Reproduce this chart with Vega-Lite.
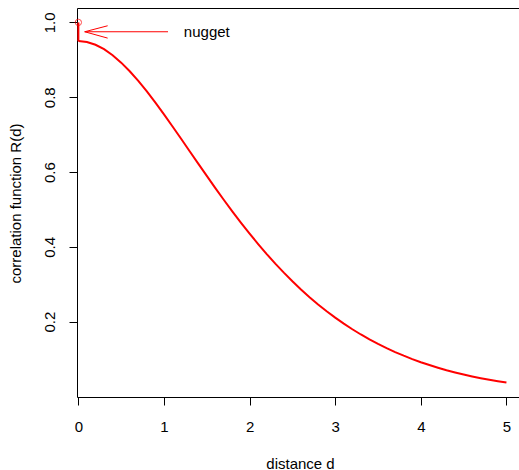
{
  "$schema": "https://vega.github.io/schema/vega-lite/v6.json",
  "width": 444,
  "height": 389,
  "autosize": {"type": "none"},
  "padding": {"left": 77, "top": 8, "right": -2, "bottom": 73},
  "background": "white",
  "config": {
    "font": "Liberation Sans",
    "view": {"stroke": "black", "strokeWidth": 1},
    "axis": {
      "domain": false,
      "grid": false,
      "tickColor": "black",
      "tickSize": 8,
      "tickWidth": 1,
      "labelFont": "Liberation Sans",
      "labelFontSize": 15,
      "labelColor": "black",
      "titleFont": "Liberation Sans",
      "titleFontSize": 15,
      "titleFontWeight": "normal",
      "titleColor": "black"
    }
  },
  "datasets": {
    "curve": [
      {"x": 0.0, "y": 0.9500}, {"x": 0.1, "y": 0.9475}, {"x": 0.2, "y": 0.9402}, {"x": 0.3, "y": 0.9284},
      {"x": 0.4, "y": 0.9123}, {"x": 0.5, "y": 0.8925}, {"x": 0.6, "y": 0.8694}, {"x": 0.7, "y": 0.8436},
      {"x": 0.8, "y": 0.8155}, {"x": 0.9, "y": 0.7855}, {"x": 1.0, "y": 0.7542}, {"x": 1.1, "y": 0.7218},
      {"x": 1.2, "y": 0.6889}, {"x": 1.3, "y": 0.6557}, {"x": 1.4, "y": 0.6225}, {"x": 1.5, "y": 0.5896},
      {"x": 1.6, "y": 0.5571}, {"x": 1.7, "y": 0.5253}, {"x": 1.8, "y": 0.4944}, {"x": 1.9, "y": 0.4644},
      {"x": 2.0, "y": 0.4354}, {"x": 2.1, "y": 0.4075}, {"x": 2.2, "y": 0.3808}, {"x": 2.3, "y": 0.3553},
      {"x": 2.4, "y": 0.3311}, {"x": 2.5, "y": 0.3081}, {"x": 2.6, "y": 0.2862}, {"x": 2.7, "y": 0.2656},
      {"x": 2.8, "y": 0.2462}, {"x": 2.9, "y": 0.2280}, {"x": 3.0, "y": 0.2109}, {"x": 3.1, "y": 0.1948},
      {"x": 3.2, "y": 0.1798}, {"x": 3.3, "y": 0.1658}, {"x": 3.4, "y": 0.1527}, {"x": 3.5, "y": 0.1406},
      {"x": 3.6, "y": 0.1293}, {"x": 3.7, "y": 0.1188}, {"x": 3.8, "y": 0.1091}, {"x": 3.9, "y": 0.1001},
      {"x": 4.0, "y": 0.0917}, {"x": 4.1, "y": 0.0841}, {"x": 4.2, "y": 0.0770}, {"x": 4.3, "y": 0.0704},
      {"x": 4.4, "y": 0.0644}, {"x": 4.5, "y": 0.0588}, {"x": 4.6, "y": 0.0537}, {"x": 4.7, "y": 0.0490},
      {"x": 4.8, "y": 0.0447}, {"x": 4.9, "y": 0.0408}, {"x": 5.0, "y": 0.0372}
    ],
    "nuggetbar": [{"x": 0, "y": 0.95, "x2": 0, "y2": 1.0}],
    "nuggetpoint": [{"x": 0, "y": 1.0}],
    "arrow": [
      {"x": 1.047, "y": 0.975, "x2": 0.074, "y2": 0.975},
      {"x": 0.074, "y": 0.975, "x2": 0.342, "y2": 0.991},
      {"x": 0.074, "y": 0.975, "x2": 0.342, "y2": 0.958}
    ],
    "label": [{"x": 1.5, "y": 0.975, "text": "nugget"}]
  },
  "encoding": {
    "x": {
      "field": "x", "type": "quantitative",
      "scale": {"domain": [-0.016, 5.17], "nice": false, "zero": false},
      "axis": {
        "values": [0, 1, 2, 3, 4, 5], "format": "d",
        "labelPadding": 14, "labelBaseline": "top",
        "title": "distance d", "titleX": 223, "titleY": 66, "titleBaseline": "middle", "titleAlign": "center"
      }
    },
    "y": {
      "field": "y", "type": "quantitative",
      "scale": {"domain": [-0.0013, 1.0385], "nice": false, "zero": false},
      "axis": {
        "values": [0.2, 0.4, 0.6, 0.8, 1.0], "format": ".1f",
        "labelAngle": 270, "labelAlign": "center", "labelBaseline": "bottom", "labelPadding": 12,
        "title": "correlation function R(d)", "titleAngle": 270, "titleX": -62, "titleY": 195,
        "titleBaseline": "middle", "titleAlign": "center"
      }
    }
  },
  "layer": [
    {
      "data": {"name": "curve"},
      "mark": {"type": "line", "color": "#ff0000", "strokeWidth": 2}
    },
    {
      "data": {"name": "nuggetbar"},
      "mark": {"type": "rule", "color": "#ff0000", "strokeWidth": 2},
      "encoding": {"x2": {"field": "x2"}, "y2": {"field": "y2"}}
    },
    {
      "data": {"name": "arrow"},
      "mark": {"type": "rule", "color": "#ff0000", "strokeWidth": 1},
      "encoding": {"x2": {"field": "x2"}, "y2": {"field": "y2"}}
    },
    {
      "data": {"name": "nuggetpoint"},
      "mark": {"type": "point", "shape": "circle", "filled": false, "color": "#ff0000", "size": 40, "strokeWidth": 1}
    },
    {
      "data": {"name": "label"},
      "mark": {"type": "text", "fontSize": 15, "font": "Liberation Sans", "color": "black", "align": "center", "baseline": "middle"},
      "encoding": {"text": {"field": "text"}}
    }
  ]
}
